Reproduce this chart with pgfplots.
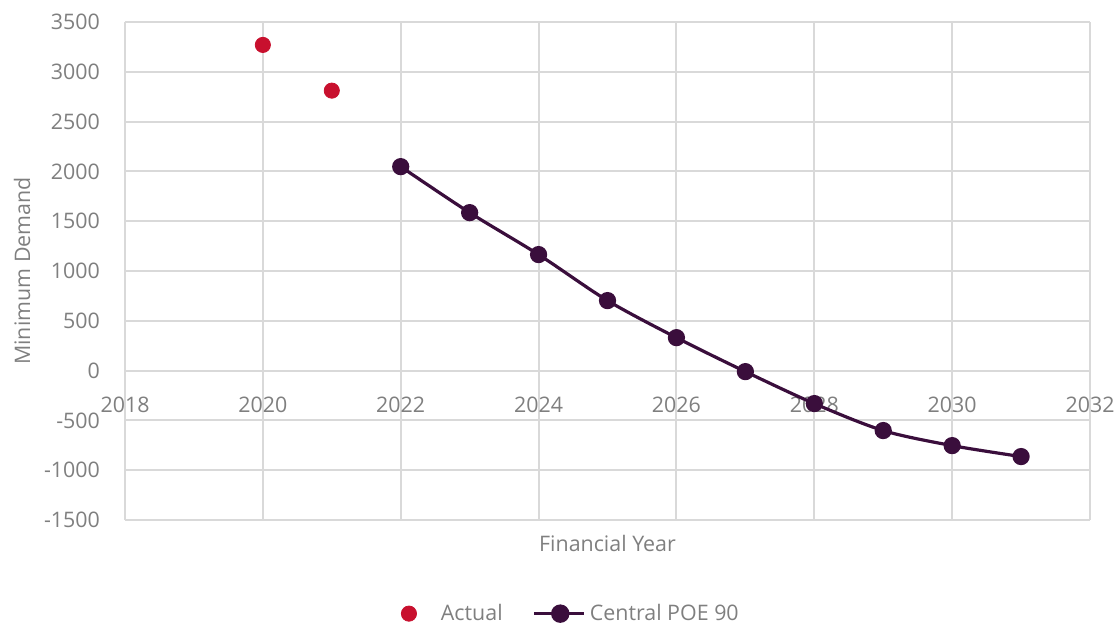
\documentclass[border=0pt]{standalone}
\usepackage{fontspec}
\setmainfont{Open Sans}
\usepackage{pgfplots}
\pgfplotsset{compat=1.18}
\definecolor{txtgray}{RGB}{127,127,127}
\definecolor{gridgray}{RGB}{217,217,217}
\definecolor{actred}{RGB}{200,16,46}
\definecolor{poepurple}{RGB}{58,14,60}
\begin{document}
\begin{tikzpicture}
\useasboundingbox (-62.5pt,-51.5pt) rectangle (496pt,260pt);
\begin{axis}[
  scale only axis,
  width=482.5pt, height=249pt,
  xmin=2018, xmax=2032, ymin=-1500, ymax=3500,
  xtick={2018,2020,...,2032},
  ytick={-1500,-1000,...,3500},
  axis x line=middle, axis y line=left,
  hide obscured x ticks=false,
  hide obscured y ticks=false,
  axis line style={-, draw=gridgray, line width=1pt},
  grid=major,
  major grid style={draw=gridgray, line width=1pt},
  major tick length=0pt,
  tick style={draw=none},
  /pgf/number format/assume math mode=true,
  /pgf/number format/1000 sep={},
  font=\fontsize{10.7pt}{13pt}\selectfont,
  tick label style={text=txtgray},
  yticklabel style={xshift=-9pt},
  xticklabel style={yshift=-9.5pt},
  xlabel={Financial Year},
  ylabel={Minimum Demand},
  label style={text=txtgray},
  xlabel style={at={(rel axis cs:0.5,0)}, anchor=center, yshift=-11.5pt},
  ylabel style={at={(rel axis cs:0,0.5)}, anchor=center, rotate=0, yshift=51.5pt},
  legend columns=2,
  legend style={at={(0.462,-0.188)}, anchor=center, draw=none, fill=none,
    text=txtgray, font=\fontsize{10.7pt}{13pt}\selectfont,
    /tikz/every even column/.style={column sep=13pt}},
  legend cell align=left,
]
\addplot[only marks, mark=*, mark size=3.8pt, actred, mark options={draw=actred, fill=actred},
  legend image code/.code={\path[draw=none, fill=none] (0pt,-3.5pt) rectangle (19pt,3.5pt); \fill[actred] (5pt,0) circle (3.8pt);}]
  coordinates {(2020,3270) (2021,2811)};
\addlegendentry{Actual}
\addplot[smooth, poepurple, line width=1.6pt, mark=*, mark size=3.5pt, mark options={fill=poepurple},
  legend image code/.code={\draw[poepurple, line width=1.6pt] (0pt,0) -- (25pt,0); \fill[poepurple] (13pt,0) circle (3.8pt);}]
  coordinates {(2022,2048) (2023,1586) (2024,1165) (2025,703) (2026,331)
               (2027,-10) (2028,-331) (2029,-602) (2030,-753) (2031,-863)};
\addlegendentry{Central POE 90}
\end{axis}
\end{tikzpicture}
\end{document}
